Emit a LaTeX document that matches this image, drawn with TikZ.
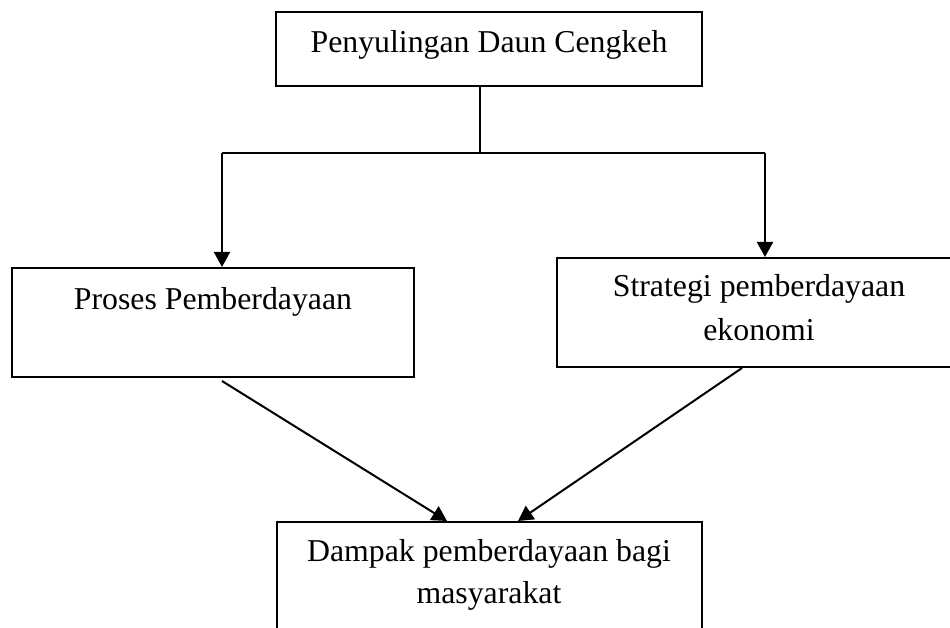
\documentclass[tikz,border=0pt]{standalone}
\usepackage{fontspec}
\setmainfont{Liberation Serif}
\usetikzlibrary{arrows.meta}
\begin{document}
\begin{tikzpicture}[x=1pt,y=-1pt,
  box/.style={draw=black,line width=2pt,rectangle,inner sep=0pt},
  lbl/.style={anchor=base,inner sep=0pt,font=\fontsize{31.8pt}{42pt}\selectfont},
  conn/.style={draw=black,line width=2pt},
  arr/.style={conn,-{Triangle[length=15pt,width=16pt]}}]
\clip (0,0) rectangle (950,628);
\fill[white] (0,0) rectangle (950,628);
% boxes
\node[box,minimum width=426pt,minimum height=74pt] (top) at (489,49) {};
\node[box,minimum width=402pt,minimum height=109pt] (left) at (213,322.5) {};
\node[box,minimum width=404pt,minimum height=109pt] (right) at (759,312.5) {};
\node[box,minimum width=425pt,minimum height=140pt] (bot) at (489.5,592) {};
% texts
\node[lbl] (ttop) at (489,53) {Penyulingan Daun Cengkeh};
\node[lbl] (tleft) at (213,309) {Proses Pemberdayaan};
\node[lbl] (tright1) at (759,297) {Strategi pemberdayaan};
\node[lbl] (tright2) at (759,340) {ekonomi};
\node[lbl] (tbot1) at (489,561) {Dampak pemberdayaan bagi};
\node[lbl] (tbot2) at (489,603) {masyarakat};
% connector points
\coordinate (j) at (480,153);
\coordinate (jl) at (222,153);
\coordinate (jr) at (765,153);
\coordinate (ls) at (222,381);
\coordinate (le) at (447,522);
\coordinate (rs) at (742,366);
\coordinate (re) at (518,522);
% connectors
\draw[conn] (j |- top.south) -- (j);
\draw[conn] (jl) -- (jr);
\draw[arr] (jl) -- (jl |- left.north);
\draw[arr] (jr) -- (jr |- right.north);
\draw[arr] (ls) -- (le |- bot.north);
\draw[arr] (rs |- right.south) -- (re |- bot.north);
\end{tikzpicture}
\end{document}
